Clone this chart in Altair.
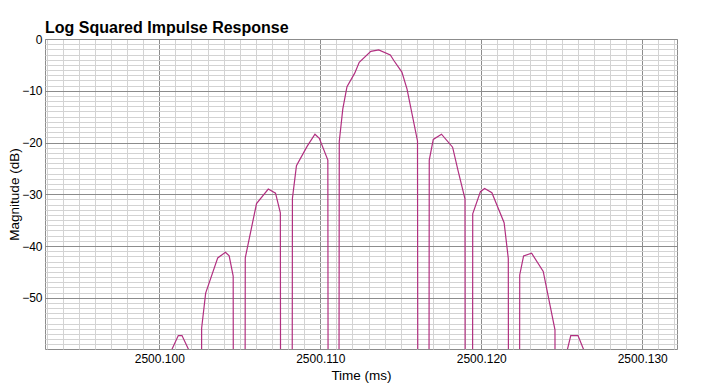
import altair as alt
import pandas as pd

chart_title = "Log Squared Impulse Response"
x_title = "Time (ms)"
y_title = "Magnitude (dB)"

# Sampled response (ms, dB); -1000 marks the deep nulls between lobes
time_ms = [
    2500.10070, 2500.10118, 2500.10141, 2500.10191,
    2500.10225,
    2500.10263, 2500.10288, 2500.10363, 2500.10411, 2500.10434, 2500.10459,
    2500.10496,
    2500.10534, 2500.10604, 2500.10677, 2500.10722, 2500.10752,
    2500.10789,
    2500.10827, 2500.10852, 2500.10919, 2500.10967, 2500.10994, 2500.11047,
    2500.11083,
    2500.11118, 2500.11140, 2500.11166, 2500.11214, 2500.11242, 2500.11314,
    2500.11363, 2500.11435, 2500.11458, 2500.11507, 2500.11539, 2500.11604,
    2500.11641,
    2500.11677, 2500.11702, 2500.11753, 2500.11822, 2500.11857, 2500.11899,
    2500.11922,
    2500.11947, 2500.11995, 2500.12021, 2500.12066, 2500.12142, 2500.12168,
    2500.12204,
    2500.12239, 2500.12263, 2500.12313, 2500.12385, 2500.12458,
    2500.12497,
    2500.12529, 2500.12556, 2500.12601, 2500.12641,
]
magnitude_db = [
    -60.55, -57.3, -57.3, -60.6,
    -1000,
    -55.9, -49.1, -42.3, -41.2, -41.9, -45.8,
    -1000,
    -42.3, -31.8, -29.0, -29.8, -33.6,
    -1000,
    -30.8, -24.5, -20.7, -18.4, -19.2, -23.4,
    -1000,
    -19.8, -13.5, -9.2, -6.6, -4.5, -2.4,
    -2.1, -3.1, -4.2, -6.4, -9.7, -19.7,
    -1000,
    -23.4, -19.4, -18.4, -20.9, -25.6, -30.9,
    -1000,
    -33.8, -29.5, -28.9, -29.7, -35.5, -42.4,
    -1000,
    -45.6, -41.9, -41.4, -44.9, -56.2,
    -1000,
    -60.8, -57.3, -57.3, -60.4,
]

x_domain = [2500.0929, 2500.13216]
y_domain = [-59.9, 0]
x_ticks = [round(2500.093 + 0.001 * k, 3) for k in range(40)]
y_ticks = list(range(-59, 1))

df = pd.DataFrame({"t": time_ms, "db": magnitude_db})

FONT = "Liberation Sans"
MAJOR = "#8c8c8c"
MINOR = "#d3d3d3"

x_major_test = "abs(datum.value*100 - round(datum.value*100)) < 0.00001"
y_major_test = "datum.value % 10 === 0"

x_axis = alt.Axis(
    values=x_ticks,
    labelExpr=f"{x_major_test} ? format(datum.value, '.3f') : ''",
    grid=True,
    gridColor={"condition": {"test": x_major_test, "value": MAJOR}, "value": MINOR},
    gridWidth=1,
    ticks=False,
    domain=False,
    labelOverlap=False,
    labelFlush=False,
    labelFont=FONT,
    labelFontSize=12,
    labelColor="black",
    labelPadding=4,
    titleFont=FONT,
    titleFontSize=13.5,
    titleFontWeight="normal",
    titleColor="black",
    titlePadding=4,
)

y_axis = alt.Axis(
    values=y_ticks,
    labelExpr=f"{y_major_test} ? datum.label : ''",
    grid=True,
    gridColor={"condition": {"test": y_major_test, "value": MAJOR}, "value": MINOR},
    gridWidth=1,
    ticks=False,
    domain=False,
    labelOverlap=False,
    labelFlush=False,
    labelFont=FONT,
    labelFontSize=12,
    labelColor="black",
    labelPadding=3,
    titleFont=FONT,
    titleFontSize=13.5,
    titleFontWeight="normal",
    titleColor="black",
    titlePadding=0,
)

chart = (
    alt.Chart(df)
    .mark_line(clip=True, color="#b12f80", strokeWidth=1.2)
    .encode(
        x=alt.X("t:Q", title=x_title, scale=alt.Scale(domain=x_domain, nice=False, zero=False), axis=x_axis),
        y=alt.Y("db:Q", title=y_title, scale=alt.Scale(domain=y_domain, nice=False, zero=False), axis=y_axis),
        order="t:Q",
    )
    .properties(
        width=632,
        height=310,
        autosize="none",
        padding={"left": 45, "top": 39, "right": 32, "bottom": 39},
        title=alt.TitleParams(
            text=chart_title,
            anchor="start",
            frame="group",
            font=FONT,
            fontSize=16,
            fontWeight="bold",
            color="black",
            offset=-3,
        ),
        background="white",
    )
    .configure_view(stroke=MAJOR, strokeWidth=1)
)

chart.save("out.html", embed_options={"renderer": "svg", "actions": False})
